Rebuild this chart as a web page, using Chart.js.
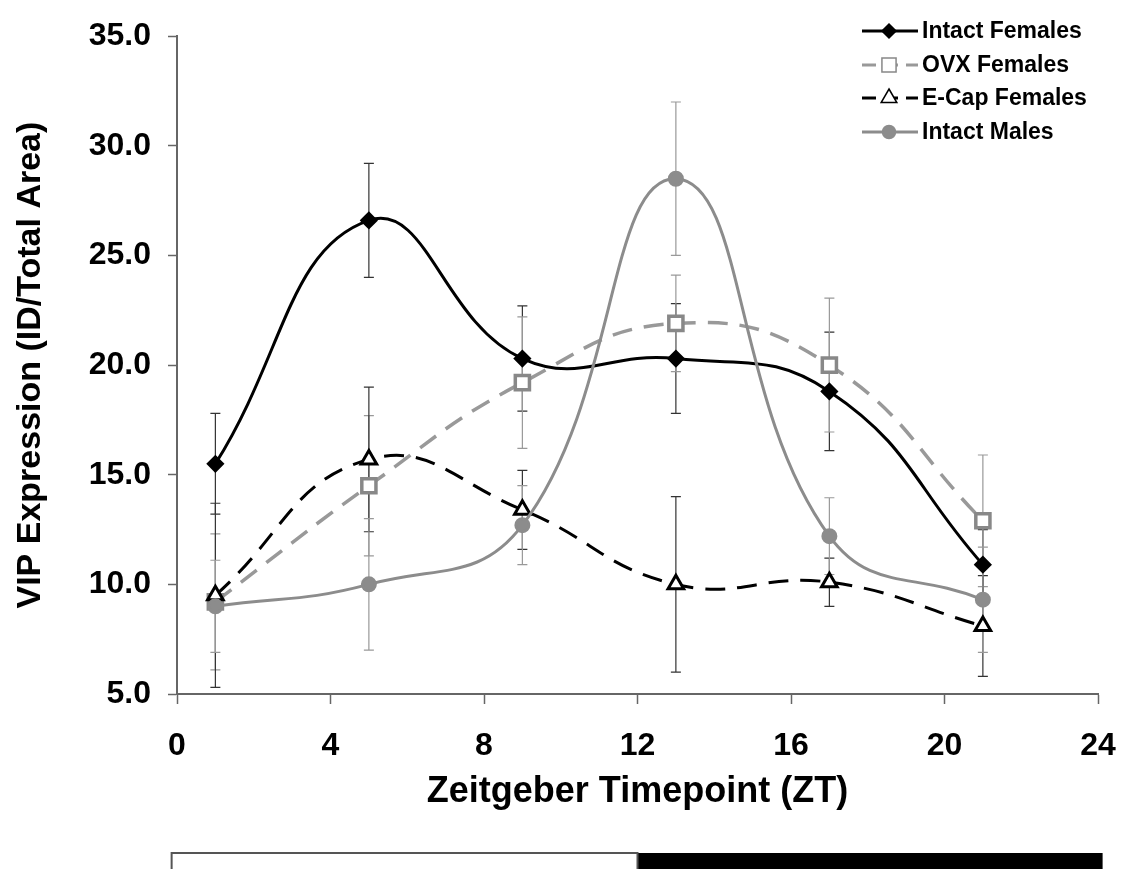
<!DOCTYPE html>
<html>
<head>
<meta charset="utf-8">
<script src="https://cdn.jsdelivr.net/npm/chart.js@4.4.1/dist/chart.umd.min.js"></script>
<style>
  html, body { margin: 0; padding: 0; background: #fff; }
  #wrap { width: 1128px; height: 869px; position: relative; }
</style>
</head>
<body>
<div id="wrap"><canvas id="vip"></canvas></div>
<script>
// Zeitgeber timepoints (hours)
const zt = [1, 5, 9, 13, 17, 21];

// VIP expression means (ID/Total Area) and their error bars
const intactFemales = [15.5, 26.6, 20.3, 20.3, 18.8, 10.9];
const intactFemalesErr = [2.3, 2.6, 2.4, 2.5, 2.7, 1.6];

const ovxFemales = [9.2, 14.5, 19.2, 21.9, 20.0, 12.9];
const ovxFemalesErr = [3.1, 3.2, 3.0, 2.2, 3.05, 3.0];

const ecapFemales = [9.5, 15.7, 13.4, 10.0, 10.1, 8.1];
const ecapFemalesErr = [4.2, 3.3, 1.8, 4.0, 1.1, 2.3];

const intactMales = [9.0, 10.0, 12.7, 28.5, 12.2, 9.3];
const intactMalesErr = [2.1, 3.0, 1.8, 3.5, 1.75, 2.4];

const seriesLabels = ["Intact Females", "OVX Females", "E-Cap Females", "Intact Males"];

const FONT = "'Liberation Sans', Arial, sans-serif";
const GRAY = "#8c8c8c";
const AXIS = "#666";

function points(ys) {
  return zt.map((x, i) => ({ x: x, y: ys[i] }));
}

// error bars, drawn under the lines
const errorBars = {
  id: "errorBars",
  beforeDatasetsDraw(chart) {
    const ctx = chart.ctx;
    const xs = chart.scales.x, ys = chart.scales.y;
    chart.data.datasets.forEach((ds) => {
      ctx.save();
      ctx.strokeStyle = ds.errColor;
      ctx.lineWidth = 1.2;
      ds.data.forEach((p, i) => {
        const e = ds.err[i];
        const px = xs.getPixelForValue(p.x);
        const top = ys.getPixelForValue(p.y + e);
        const bot = ys.getPixelForValue(p.y - e);
        ctx.beginPath();
        ctx.moveTo(px, top); ctx.lineTo(px, bot);
        ctx.moveTo(px - 5, top); ctx.lineTo(px + 5, top);
        ctx.moveTo(px - 5, bot); ctx.lineTo(px + 5, bot);
        ctx.stroke();
      });
      ctx.restore();
    });
  }
};

function marker(ctx, style, x, y, r, fill, stroke) {
  ctx.save();
  ctx.fillStyle = fill;
  ctx.strokeStyle = stroke;
  ctx.lineWidth = 1.5;
  ctx.setLineDash([]);
  ctx.beginPath();
  if (style === "rectRot") {
    ctx.moveTo(x, y - r); ctx.lineTo(x + r, y); ctx.lineTo(x, y + r); ctx.lineTo(x - r, y);
  } else if (style === "rect") {
    const s = r * Math.SQRT1_2;
    ctx.rect(x - s, y - s, 2 * s, 2 * s);
  } else if (style === "triangle") {
    ctx.moveTo(x, y - r); ctx.lineTo(x + r * 0.87, y + r * 0.5); ctx.lineTo(x - r * 0.87, y + r * 0.5);
  } else {
    ctx.arc(x, y, r, 0, Math.PI * 2);
  }
  ctx.closePath();
  ctx.fill();
  ctx.stroke();
  ctx.restore();
}

// legend in the top right corner: line sample, marker, label
const cornerLegend = {
  id: "cornerLegend",
  afterDraw(chart) {
    const ctx = chart.ctx;
    const rowsY = [31, 65, 98, 132];
    chart.data.datasets.forEach((ds, i) => {
      const y = rowsY[i];
      ctx.save();
      ctx.strokeStyle = ds.borderColor;
      ctx.lineWidth = 3;
      ctx.setLineDash(ds.borderDash ? [14, 8] : []);
      ctx.beginPath();
      ctx.moveTo(862, y); ctx.lineTo(918, y);
      ctx.stroke();
      ctx.restore();
      marker(ctx, ds.pointStyle, 889, y, ds.pointRadius, ds.pointBackgroundColor, ds.pointBorderColor);
      ctx.save();
      ctx.fillStyle = "#000";
      ctx.font = "bold 23px " + FONT;
      ctx.textBaseline = "middle";
      ctx.fillText(ds.label, 922, y + 1);
      ctx.restore();
    });
  }
};

// light / dark bar under the axis title
const lightDark = {
  id: "lightDark",
  afterDraw(chart) {
    const ctx = chart.ctx;
    const xs = chart.scales.x;
    const x0 = xs.getPixelForValue(-0.14);
    const x1 = xs.getPixelForValue(12);
    const x2 = xs.getPixelForValue(24.12);
    ctx.save();
    ctx.fillStyle = "#000";
    ctx.fillRect(x1, 853, x2 - x1, 20);
    ctx.strokeStyle = "#555";
    ctx.lineWidth = 2;
    ctx.strokeRect(x0, 853, x1 - x0, 20);
    ctx.restore();
  }
};

new Chart(document.getElementById("vip"), {
  type: "line",
  data: {
    datasets: [
      {
        label: seriesLabels[0], data: points(intactFemales), err: intactFemalesErr, errColor: "#333",
        borderColor: "#000", borderWidth: 3, tension: 0.45,
        pointStyle: "rectRot", pointRadius: 7, pointBackgroundColor: "#000", pointBorderColor: "#000",
        order: 4
      },
      {
        label: seriesLabels[1], data: points(ovxFemales), err: ovxFemalesErr, errColor: "#999",
        borderColor: "#999", borderWidth: 3.5, borderDash: [20, 12], tension: 0.45,
        pointStyle: "rect", pointRadius: 10, pointBackgroundColor: "#fff", pointBorderColor: "#888",
        order: 3
      },
      {
        label: seriesLabels[2], data: points(ecapFemales), err: ecapFemalesErr, errColor: "#333",
        borderColor: "#000", borderWidth: 3, borderDash: [20, 12], tension: 0.45,
        pointStyle: "triangle", pointRadius: 9, pointBackgroundColor: "#fff", pointBorderColor: "#000",
        order: 2
      },
      {
        label: seriesLabels[3], data: points(intactMales), err: intactMalesErr, errColor: "#999",
        borderColor: GRAY, borderWidth: 3, tension: 0.45,
        pointStyle: "circle", pointRadius: 6.5, pointBackgroundColor: GRAY, pointBorderColor: GRAY,
        order: 1
      }
    ]
  },
  options: {
    responsive: true,
    maintainAspectRatio: false,
    animation: false,
    layout: { padding: { top: 23, right: 30, bottom: 0, left: 0 } },
    plugins: { legend: { display: false }, tooltip: { enabled: false } },
    scales: {
      x: {
        type: "linear", min: 0, max: 24,
        afterFit: (scale) => {
          scale.height = 869 - 694;
          scale.paddingRight = 0;
          scale.paddingLeft = 0;
        },
        grid: { drawOnChartArea: false, tickLength: 10, color: AXIS, tickWidth: 1.5 },
        border: { color: AXIS, width: 2 },
        ticks: { stepSize: 4, color: "#000", padding: 23, font: { family: FONT, size: 32, weight: "bold" } },
        title: {
          display: true, text: "Zeitgeber Timepoint (ZT)", color: "#000",
          font: { family: FONT, size: 36, weight: "bold" }, padding: { top: 0, bottom: 55 }
        }
      },
      y: {
        min: 5, max: 35,
        afterFit: (scale) => { scale.width = 177; },
        grid: { drawOnChartArea: false, tickLength: 9, color: AXIS, tickWidth: 1.5 },
        border: { color: AXIS, width: 2 },
        ticks: {
          stepSize: 5, color: "#000", padding: 17,
          font: { family: FONT, size: 32, weight: "bold" },
          callback: (v) => v.toFixed(1)
        },
        title: {
          display: true, text: "VIP Expression (ID/Total Area)", color: "#000",
          font: { family: FONT, size: 34, weight: "bold" }, padding: { top: 10, bottom: 0 }
        }
      }
    }
  },
  plugins: [errorBars, cornerLegend, lightDark]
});
</script>
</body>
</html>
